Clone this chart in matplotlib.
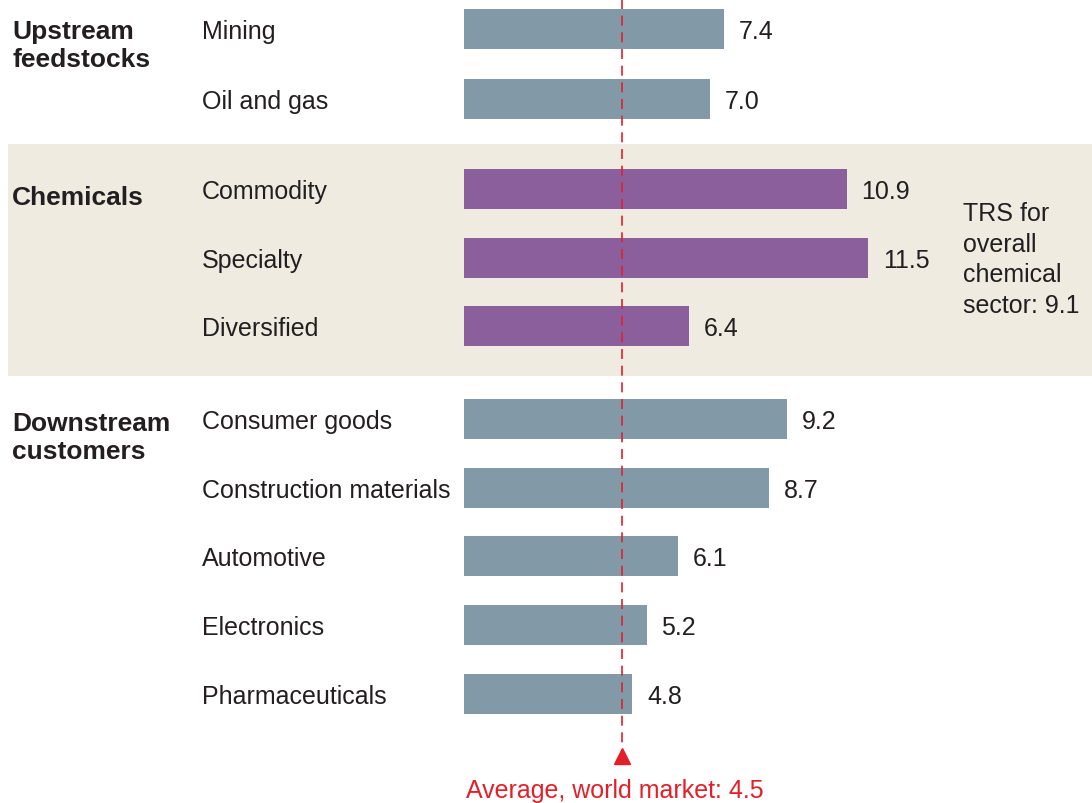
import matplotlib
matplotlib.use("Agg")
import matplotlib.pyplot as plt
from matplotlib.patches import Rectangle

categories = ["Mining", "Oil and gas", "Commodity", "Specialty", "Diversified",
              "Consumer goods", "Construction materials", "Automotive",
              "Electronics", "Pharmaceuticals"]
values = [7.4, 7.0, 10.9, 11.5, 6.4, 9.2, 8.7, 6.1, 5.2, 4.8]
groups = ["Upstream\nfeedstocks", "Chemicals", "Downstream\ncustomers"]
group_of = [0, 0, 1, 1, 1, 2, 2, 2, 2, 2]
average = 4.5
average_label = "Average, world market: 4.5"
trs_note = "TRS for\noverall\nchemical\nsector: 9.1"

W, H = 1092, 804
x0px, ppu = 464, 35.1
ypos = [30, 100, 190, 259, 327, 420, 489, 557, 626, 695]
bar_h = 40

plt.rcParams['font.family'] = ['Liberation Sans', 'DejaVu Sans']
fig = plt.figure(figsize=(W / 100, H / 100), dpi=100)
ax = fig.add_axes([0, 0, 1, 1])
ax.set_xlim(-x0px / ppu, (W - x0px) / ppu)
ax.set_ylim(H, 0)
ax.axis("off")

def px2x(px):
    return (px - x0px) / ppu

# shaded band for chemicals
ax.add_patch(Rectangle((px2x(8), 145), px2x(1092) - px2x(8), 232,
                       facecolor="#efebe1", edgecolor="none", zorder=0))

grey = "#8299a8"
purple = "#8a5f9c"
colors = [purple if g == 1 else grey for g in group_of]
ax.barh(ypos, values, height=bar_h, color=colors, zorder=2)

fs = 18
tc = "#231f20"
for y, v, c in zip(ypos, values, categories):
    ax.text(px2x(202), y + 2, c, fontsize=fs, va="center", ha="left", color=tc)
    ax.text(v + 15 / ppu, y + 2, f"{v:.1f}", fontsize=fs, va="center", ha="left", color=tc)

group_y = [46, 198, 438]
for g, gy in zip(groups, group_y):
    ax.text(px2x(12), gy, g, fontsize=19, fontweight="bold", va="center", ha="left",
            color=tc, linespacing=1.2)

ax.text(px2x(963), 260, trs_note, fontsize=fs, va="center", ha="left",
        color=tc, linespacing=1.36)

red = "#e3202a"
ax.plot([average, average], [0, 748], color=red, lw=1.2, dashes=(6, 4), zorder=3)
ax.plot([average], [757], marker="^", markersize=11, color=red, zorder=3)
ax.text(px2x(466), 791, average_label, fontsize=fs, va="center", ha="left", color=red)

fig.savefig("out.png", dpi=100)
